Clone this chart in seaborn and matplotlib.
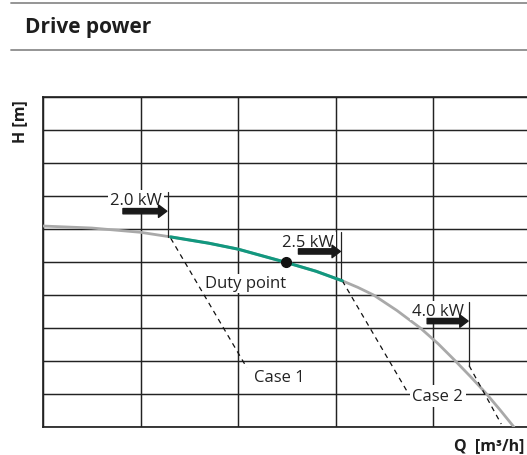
import matplotlib
matplotlib.use("Agg")
import matplotlib.pyplot as plt
from matplotlib.lines import Line2D
import seaborn as sns
import pandas as pd

# ---- data ----
pump_q = [0.0, 0.5, 1.0, 1.31, 1.7, 2.0, 2.49, 2.8, 3.07, 3.23, 3.39, 3.63, 3.87, 4.05, 4.23, 4.39, 4.55, 4.69, 4.83]
pump_h = [6.09, 6.03, 5.90, 5.76, 5.57, 5.39, 4.99, 4.72, 4.43, 4.23, 4.0, 3.53, 3.0, 2.53, 2.0, 1.51, 1.0, 0.51, 0.0]
duty_q_min, duty_q_max = 1.31, 3.07
duty_point_q, duty_point_h = 2.49, 4.99

kw_labels = ["2.0 kW", "2.5 kW", "4.0 kW"]
kw_label_q = [0.954, 2.72, 4.05]
kw_label_h = [6.76, 5.48, 3.40]
arrow_q_start = [0.82, 2.62, 3.94]
arrow_q_end = [1.27, 3.05, 4.36]
arrow_h = [6.54, 5.32, 3.21]
limit_q = [1.28, 3.06, 4.37]
limit_h_top = [7.13, 5.90, 3.79]
limit_h_bottom = [5.76, 4.46, 1.86]

case1_q = [1.31, 2.09]
case1_h = [5.72, 1.80]
case2_q = [3.07, 3.74]
case2_h = [4.43, 1.05]
case3_q = [4.37, 4.70]
case3_h = [1.86, 0.09]

case_labels = ["Case 1", "Case 2"]
case_label_q = [2.42, 4.05]
case_label_h = [1.40, 0.825]
duty_label = "Duty point"
duty_label_q, duty_label_h = 2.08, 4.23

x_grid = [0, 1, 2, 3, 4]
y_grid = list(range(0, 11))

# ---- style ----
sns.set_style("white")
plt.rcParams['font.family'] = ['Open Sans', 'DejaVu Sans']

W, H = 527, 456
fig = plt.figure(figsize=(W / 100, H / 100), dpi=100)
ax = fig.add_axes([43 / W, 28 / H, 1 - 43 / W, 330 / H])
ax.set_xlim(0, (W - 43) / 97.5)
ax.set_ylim(0, 10)

grid_c = '#222222'
ax.set_xticks(x_grid)
ax.set_yticks(y_grid)
ax.tick_params(length=0, labelbottom=False, labelleft=False)
ax.grid(True, color=grid_c, lw=1.05)
ax.set_axisbelow(True)
for s in ['left', 'top', 'bottom']:
    ax.spines[s].set_color(grid_c)
    ax.spines[s].set_linewidth(1.25)
ax.spines['right'].set_visible(False)
ax.set_xlabel('')
ax.set_ylabel('')

# pump curve
df = pd.DataFrame({'Q': pump_q, 'H': pump_h})
sns.lineplot(data=df, x='Q', y='H', color='#a9a9a9', lw=2.0, ax=ax,
             estimator=None, sort=True, zorder=3)
duty = df[(df['Q'] >= duty_q_min) & (df['Q'] <= duty_q_max)]
sns.lineplot(data=duty, x='Q', y='H', color='#12987f', lw=2.2, ax=ax,
             estimator=None, sort=True, zorder=4)

# dashed system curves
for cq, ch in [(case1_q, case1_h), (case2_q, case2_h), (case3_q, case3_h)]:
    sns.lineplot(x=cq, y=ch, color='#111111', lw=0.9, ax=ax,
                 linestyle=(0, (4, 3.5)), estimator=None, sort=False, zorder=3)

# power limit lines and arrows
for i in range(3):
    ax.plot([limit_q[i], limit_q[i]], [limit_h_top[i], limit_h_bottom[i]],
            color='#222222', lw=0.9, zorder=3)
    ax.annotate('', xy=(arrow_q_end[i], arrow_h[i]), xytext=(arrow_q_start[i], arrow_h[i]),
                arrowprops=dict(width=3.8, headwidth=9, headlength=6,
                                color='#1a1a1a', shrink=0), zorder=6)
    ax.text(kw_label_q[i], kw_label_h[i], kw_labels[i], ha='center', va='baseline',
            fontsize=12, color='#222222', zorder=5,
            bbox=dict(fc='white', ec='none', pad=1.2))

# duty point
ax.plot([duty_point_q], [duty_point_h], 'o', color='#111111', ms=7, zorder=7)
ax.text(duty_label_q, duty_label_h, duty_label, ha='center', va='baseline',
        fontsize=12, color='#222222', zorder=5,
        bbox=dict(fc='white', ec='none', pad=1.2))

for i in range(2):
    ax.text(case_label_q[i], case_label_h[i], case_labels[i], ha='center', va='baseline',
            fontsize=12, color='#222222', zorder=5,
            bbox=dict(fc='white', ec='none', pad=2.0))

# header
for yy in [4, 51]:
    fig.add_artist(Line2D([11 / W, 1.0], [1 - yy / H, 1 - yy / H],
                          color='#8c8c8c', lw=1.3, transform=fig.transFigure))
fig.text(25 / W, 1 - 28 / H, 'Drive power', fontweight='bold', fontsize=15,
         ha='left', va='center', color='#1e1e1e')

# axis labels
fig.text(20 / W, 1 - 122 / H, 'H [m]', rotation=90, fontweight='bold', fontsize=11.5,
         ha='center', va='center', color='#1e1e1e')
fig.text(524 / W, 1 - 450.5 / H, 'Q  [m³/h]', fontweight='bold', fontsize=11.5,
         ha='right', va='baseline', color='#1e1e1e')

fig.savefig('out.png', dpi=100)
